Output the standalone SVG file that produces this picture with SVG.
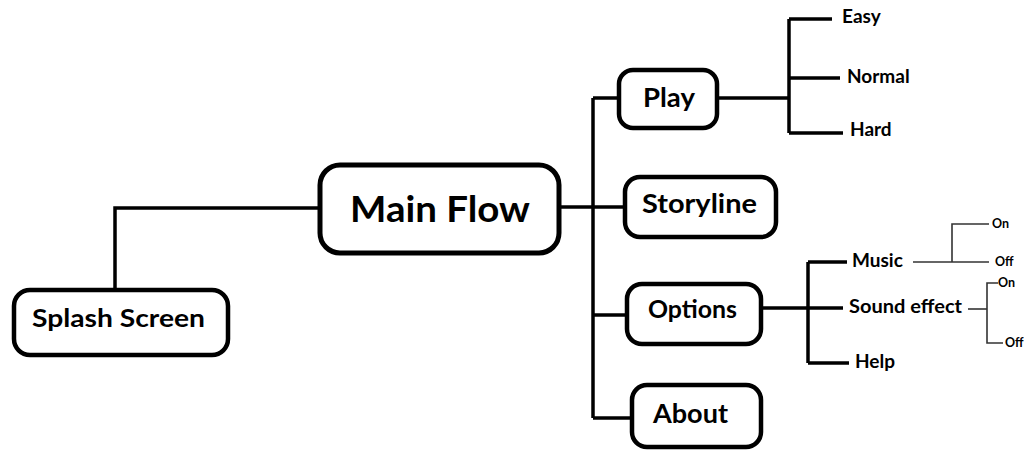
<svg xmlns="http://www.w3.org/2000/svg" width="1024" height="450" viewBox="0 0 1024 450">
<style>
.box{fill:#fff;stroke:#000;stroke-width:4.5}
.ln{fill:none;stroke:#000;stroke-width:3.5}
.thin{fill:none;stroke:#333;stroke-width:1.6}
text{font-family:Lato,"Open Sans","Liberation Sans",sans-serif;font-weight:bold;fill:#000}
.big{font-size:36px}
.mid{font-size:27px}
.sm{font-size:19px}
.xs{font-size:12.5px}
</style>
<rect width="1024" height="450" fill="#fff"/>
<g id="connectors">
<polyline class="ln" points="115,290 115,208 320,208"/>
<line class="ln" x1="559" y1="207" x2="625" y2="207"/>
<line class="ln" x1="593" y1="98" x2="593" y2="418"/>
<line class="ln" x1="593" y1="98" x2="619" y2="98"/>
<line class="ln" x1="593" y1="315" x2="627" y2="315"/>
<line class="ln" x1="593" y1="418" x2="632" y2="418"/>
<line class="ln" x1="717" y1="98" x2="789" y2="98"/>
<line class="ln" x1="789" y1="19" x2="789" y2="133"/>
<line class="ln" x1="789" y1="19" x2="832" y2="19"/>
<line class="ln" x1="789" y1="78" x2="840" y2="78"/>
<line class="ln" x1="789" y1="133" x2="843" y2="133"/>
<line class="ln" x1="761" y1="308" x2="843" y2="308"/>
<line class="ln" x1="808" y1="262" x2="808" y2="363"/>
<line class="ln" x1="808" y1="262" x2="847" y2="262"/>
<line class="ln" x1="808" y1="363" x2="849" y2="363"/>
<line class="thin" x1="913" y1="262" x2="989" y2="262"/>
<polyline class="thin" points="952,262 952,224 989,224"/>
<line class="thin" x1="968" y1="309" x2="987" y2="309"/>
<polyline class="thin" points="998,283 987,283 987,343 1003,343"/>
</g>
<g id="splash"><rect class="box" x="14" y="290" width="214" height="65" rx="16"/><text class="mid" x="32" y="327" textLength="173" lengthAdjust="spacingAndGlyphs" style="font-size:24px">Splash Screen</text></g>
<g id="main"><rect class="box" x="320" y="165" width="239" height="88" rx="20" style="stroke-width:5"/><text class="big" x="350" y="222" textLength="180" lengthAdjust="spacingAndGlyphs">Main Flow</text></g>
<g id="play"><rect class="box" x="619" y="70" width="98" height="58" rx="14"/><text class="mid" x="643" y="107" textLength="52" lengthAdjust="spacingAndGlyphs">Play</text></g>
<g id="storyline"><rect class="box" x="625" y="177" width="151" height="60" rx="15"/><text class="mid" x="642" y="213" textLength="115" lengthAdjust="spacingAndGlyphs">Storyline</text></g>
<g id="options"><rect class="box" x="627" y="284" width="134" height="60" rx="15"/><text class="mid" x="648" y="318" textLength="89" lengthAdjust="spacingAndGlyphs" style="font-size:25px">Options</text></g>
<g id="about"><rect class="box" x="632" y="385" width="129" height="62" rx="15"/><text class="mid" x="653" y="423" textLength="75" lengthAdjust="spacingAndGlyphs" style="font-size:26px">About</text></g>
<g id="easy"><text class="sm" x="842" y="23">Easy</text></g>
<g id="normal"><text class="sm" x="847" y="83">Normal</text></g>
<g id="hard"><text class="sm" x="850" y="136">Hard</text></g>
<g id="music"><text class="sm" x="852" y="267">Music</text></g>
<g id="sound"><text class="sm" x="849" y="313" textLength="113" lengthAdjust="spacingAndGlyphs">Sound effect</text></g>
<g id="help"><text class="sm" x="855" y="368">Help</text></g>
<g id="music-on"><text class="xs" x="992" y="228">On</text></g>
<g id="music-off"><text class="xs" x="995" y="266">Off</text></g>
<g id="sound-on"><text class="xs" x="998" y="287">On</text></g>
<g id="sound-off"><text class="xs" x="1005" y="347">Off</text></g>
</svg>
